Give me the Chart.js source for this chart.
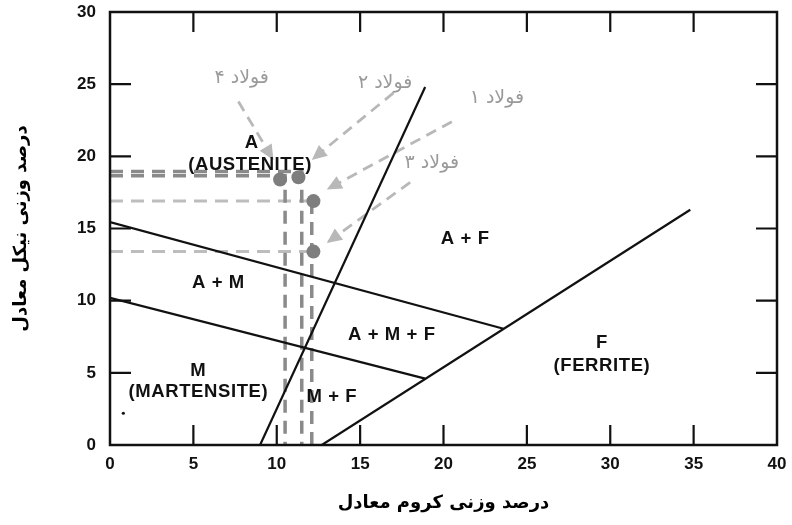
<!DOCTYPE html>
<html><head><meta charset="utf-8">
<script src="https://cdn.jsdelivr.net/npm/chart.js@4"></script>
<style>html,body{margin:0;padding:0;background:#fff}canvas{display:block;background:#fff}</style>
</head><body>
<canvas id="c" width="792" height="525"></canvas>
<script>
// ---- data ----
const xTicks = [0, 5, 10, 15, 20, 25, 30, 35, 40];
const yTicks = [0, 5, 10, 15, 20, 25, 30];
const innerX = [5, 10, 15, 20, 25, 30, 35];
const innerY = [5, 10, 15, 20, 25];

// phase boundaries [x, y]
const boundAustenite = [[0, 15.45], [23.6, 8.05]];
const boundMartensite = [[0, 10.2], [18.9, 4.6]];
const boundSteep = [[9.0, 0], [18.9, 24.8]];
const boundFerrite = [[12.7, 0], [34.8, 16.3]];

// steels
const steelX = [10.2, 11.3, 12.2, 12.2];
const steelY = [18.4, 18.55, 16.9, 13.4];

// dashed guides
const guideDark1 = [[0, 18.95], [11.5, 18.95], [11.5, 0]];
const guideDark2 = [[0, 18.65], [10.5, 18.65], [10.5, 0]];
const guideDark3 = [[12.1, 16.9], [12.1, 0]];
const guideLight1 = [[0, 16.9], [12.1, 16.9]];
const guideLight2 = [[0, 13.4], [12.1, 13.4]];

// arrows (start -> head)
const arrow1 = [[20.5, 22.4], [13.0, 17.7]];
const arrow2 = [[17.0, 24.4], [12.1, 19.75]];
const arrow3 = [[18.0, 18.2], [13.0, 14.0]];
const arrow4 = [[7.7, 23.8], [9.8, 19.75]];

const steelNames = ['فولاد ۱', 'فولاد ۲', 'فولاد ۳', 'فولاد ۴'];
const steelNameX = [23.2, 16.5, 19.3, 7.9];
const steelNameY = [24.05, 25.1, 19.5, 25.4];

const regionLabels = ['A', '(AUSTENITE)', 'A + M', 'A + F', 'A + M + F', 'M', '(MARTENSITE)', 'M + F', 'F', '(FERRITE)'];
const regionX = [8.5, 8.4, 6.5, 21.3, 16.9, 5.3, 5.3, 13.3, 29.5, 29.5];
const regionY = [20.9, 19.4, 11.2, 14.3, 7.6, 5.15, 3.7, 3.3, 7.1, 5.5];

const speck = [[0.8, 2.2]];

const xTitle = 'درصد وزنی کروم معادل';
const yTitle = 'درصد وزنی نیکل معادل';

// ---- helpers ----
const pts = a => a.map(p => ({x: p[0], y: p[1]}));
function lineDs(a, color, width, dash, order, extra) {
  return Object.assign({type: 'scatter', data: pts(a), showLine: true, borderColor: color, borderWidth: width,
    borderDash: dash || [], pointRadius: 0, pointHoverRadius: 0, fill: false, order: order, tension: 0}, extra || {});
}

const datasets = [
  {type: 'scatter', data: steelX.map((x, i) => ({x: x, y: steelY[i]})), pointRadius: 7, pointBackgroundColor: '#7e7e7e',
   pointBorderColor: '#7e7e7e', pointBorderWidth: 0, order: 0},
  {type: 'scatter', data: pts(speck), pointRadius: 1.6, pointBackgroundColor: '#111', pointBorderWidth: 0, order: 0},
  lineDs(boundAustenite, '#111', 2.2, null, 1),
  lineDs(boundMartensite, '#111', 2.2, null, 1),
  lineDs(boundSteep, '#111', 2.2, null, 1),
  lineDs(boundFerrite, '#111', 2.2, null, 1),
  lineDs(guideDark1, '#8a8a8a', 3.5, [13, 8], 2),
  lineDs(guideDark2, '#8a8a8a', 3.5, [13, 8], 2),
  lineDs(guideDark3, '#8a8a8a', 3.5, [13, 8], 2),
  lineDs(guideLight1, '#bdbdbd', 3, [13, 8], 3),
  lineDs(guideLight2, '#bdbdbd', 3, [13, 8], 3),
  lineDs(arrow1, '#b8b8b8', 2.8, [11, 7], 4, {isArrow: true}),
  lineDs(arrow2, '#b8b8b8', 2.8, [11, 7], 4, {isArrow: true}),
  lineDs(arrow3, '#b8b8b8', 2.8, [11, 7], 4, {isArrow: true}),
  lineDs(arrow4, '#b8b8b8', 2.8, [11, 7], 4, {isArrow: true})
];

const decor = {
  id: 'decor',
  afterDatasetsDraw(chart) {
    const ctx = chart.ctx;
    const xs = chart.scales.x, ys = chart.scales.y;
    // arrow heads
    chart.data.datasets.forEach((ds, i) => {
      if (!ds.isArrow) return;
      const m = chart.getDatasetMeta(i).data;
      const a = m[0], b = m[1];
      const ang = Math.atan2(b.y - a.y, b.x - a.x);
      const L = 15, W = 7;
      ctx.save();
      ctx.fillStyle = '#b8b8b8';
      ctx.beginPath();
      ctx.moveTo(b.x, b.y);
      ctx.lineTo(b.x - L * Math.cos(ang) + W * Math.sin(ang), b.y - L * Math.sin(ang) - W * Math.cos(ang));
      ctx.lineTo(b.x - L * Math.cos(ang) - W * Math.sin(ang), b.y - L * Math.sin(ang) + W * Math.cos(ang));
      ctx.closePath();
      ctx.fill();
      ctx.restore();
    });
    // frame
    const ca = chart.chartArea;
    ctx.save();
    ctx.strokeStyle = '#111';
    ctx.lineWidth = 2.5;
    ctx.strokeRect(ca.left, ca.top, ca.right - ca.left, ca.bottom - ca.top);
    ctx.lineWidth = 2.2;
    ctx.beginPath();
    innerX.forEach(v => {
      const px = xs.getPixelForValue(v);
      ctx.moveTo(px, ca.bottom); ctx.lineTo(px, ca.bottom - 20);
      ctx.moveTo(px, ca.top); ctx.lineTo(px, ca.top + 20);
    });
    innerY.forEach(v => {
      const py = ys.getPixelForValue(v);
      ctx.moveTo(ca.left, py); ctx.lineTo(ca.left + 21, py);
      ctx.moveTo(ca.right, py); ctx.lineTo(ca.right - 21, py);
    });
    ctx.stroke();
    // region labels
    ctx.fillStyle = '#111';
    ctx.font = 'bold 18.5px "Liberation Sans", Arial, sans-serif';
    ctx.textAlign = 'center';
    ctx.textBaseline = 'middle';
    try { ctx.letterSpacing = '0.6px'; } catch (e) {}
    regionLabels.forEach((t, i) => {
      ctx.fillText(t, xs.getPixelForValue(regionX[i]), ys.getPixelForValue(regionY[i]));
    });
    try { ctx.letterSpacing = '0px'; } catch (e) {}
    // steel names
    ctx.fillStyle = '#9a9a9a';
    ctx.font = '19px "DejaVu Sans", sans-serif';
    ctx.direction = 'rtl';
    steelNames.forEach((t, i) => {
      ctx.fillText(t, xs.getPixelForValue(steelNameX[i]), ys.getPixelForValue(steelNameY[i]));
    });
    ctx.restore();
  }
};

new Chart(document.getElementById('c'), {
  data: {datasets: datasets},
  options: {
    responsive: false,
    animation: false,
    devicePixelRatio: 1,
    layout: {padding: {left: 0, right: 15, top: 12, bottom: 0}},
    plugins: {legend: {display: false}, tooltip: {enabled: false}},
    scales: {
      x: {
        type: 'linear', position: 'bottom', min: 0, max: 40,
        afterBuildTicks: s => { s.ticks = xTicks.map(v => ({value: v})); },
        afterFit: s => { s.height = 80; s.paddingLeft = 0; s.paddingRight = 0; },
        grid: {display: false, drawTicks: false},
        border: {display: false},
        ticks: {padding: 9, color: '#111', autoSkip: false, maxRotation: 0,
                font: {family: '"Liberation Sans", Arial, sans-serif', size: 17, weight: 'bold'}},
        title: {display: true, text: xTitle, color: '#000', padding: {top: 0, bottom: 11},
                font: {family: '"DejaVu Sans", sans-serif', size: 18, weight: 'bold'}}
      },
      y: {
        type: 'linear', position: 'left', min: 0, max: 30,
        afterBuildTicks: s => { s.ticks = yTicks.map(v => ({value: v})); },
        afterFit: s => { s.width = 110; s.paddingTop = 0; s.paddingBottom = 0; },
        grid: {display: false, drawTicks: false},
        border: {display: false},
        ticks: {padding: 14, color: '#111', autoSkip: false,
                font: {family: '"Liberation Sans", Arial, sans-serif', size: 17, weight: 'bold'}},
        title: {display: true, text: yTitle, color: '#000', padding: {top: 11, bottom: 0},
                font: {family: '"DejaVu Sans", sans-serif', size: 18, weight: 'bold'}}
      }
    }
  },
  plugins: [decor]
});
</script>
</body></html>
